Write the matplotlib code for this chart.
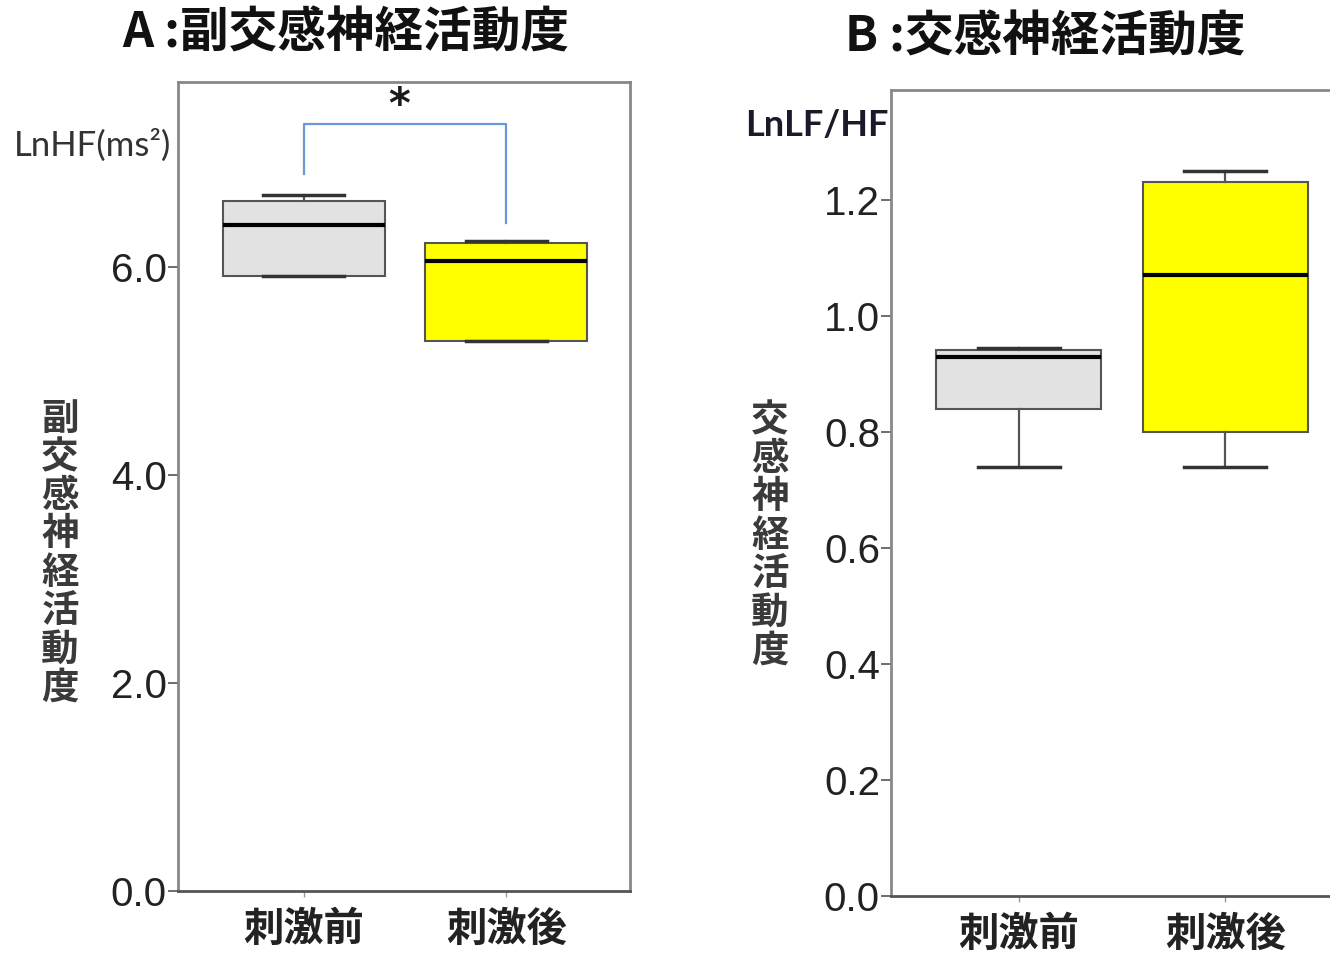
import matplotlib
matplotlib.use("Agg")
import matplotlib.pyplot as plt

plt.rcParams['font.family'] = ['Noto Sans CJK JP', 'DejaVu Sans']

# data
groups = ['刺激前', '刺激後']

# A: LnHF (ms2)
hf_q1 = [5.91, 5.29]
hf_med = [6.40, 6.06]
hf_q3 = [6.64, 6.23]
hf_lo = [5.91, 5.29]
hf_hi = [6.69, 6.25]

# B: LnLF/HF
lfhf_q1 = [0.840, 0.800]
lfhf_med = [0.929, 1.071]
lfhf_q3 = [0.941, 1.231]
lfhf_lo = [0.740, 0.740]
lfhf_hi = [0.945, 1.250]

hf_ticks = [0.0, 2.0, 4.0, 6.0]
lfhf_ticks = [0.0, 0.2, 0.4, 0.6, 0.8, 1.0, 1.2]
box_colors = ['#e2e2e2', '#ffff00']
num_font = ['Liberation Sans Narrow', 'Liberation Sans']

W, H = 1330, 957
fig = plt.figure(figsize=(W / 100, H / 100), dpi=100)


def px_axes(left, top, right, bottom):
    return fig.add_axes([left / W, 1 - bottom / H, (right - left) / W, (bottom - top) / H])


def draw_boxes(ax, q1, med, q3, lo, hi):
    stats = []
    for i in range(len(groups)):
        stats.append(dict(med=med[i], q1=q1[i], q3=q3[i], whislo=lo[i], whishi=hi[i], fliers=[]))
    bp = ax.bxp(stats, positions=[1, 2], widths=0.8, patch_artist=True,
                showfliers=False, capwidths=0.4,
                boxprops=dict(edgecolor='#555555', linewidth=1.5),
                medianprops=dict(color='black', linewidth=3),
                whiskerprops=dict(color='#555555', linewidth=1.6),
                capprops=dict(color='#333333', linewidth=2.5))
    for patch, c in zip(bp['boxes'], box_colors):
        patch.set_facecolor(c)
    ax.set_xlim(0.38, 2.61)
    ax.set_xticks([1, 2])
    ax.set_xticklabels(groups, fontsize=29, fontweight='bold', color='#222222')
    ax.tick_params(axis='x', length=4, width=1, color='#999999', pad=9)
    ax.tick_params(axis='y', length=7, width=1.2, color='#555555', pad=1,
                   labelsize=29, labelcolor='#222222')
    for s in ax.spines.values():
        s.set_color('#888888')
        s.set_linewidth(2)
    ax.spines['bottom'].set_color('#555555')


# panel A
axA = px_axes(178, 82, 630, 891)
draw_boxes(axA, hf_q1, hf_med, hf_q3, hf_lo, hf_hi)
axA.set_ylim(0, 7.78)
axA.set_yticks(hf_ticks)
axA.set_yticklabels(['%.1f' % t for t in hf_ticks], family=num_font)

# significance bracket
br_left, br_top, br_right = 6.90, 7.38, 6.42
axA.plot([1, 1, 2, 2], [br_left, br_top, br_top, br_right], color='#6a9ad6', lw=1.6)
axA.text(1.47, 7.55, '*', ha='center', va='center', fontsize=30, fontweight='bold',
         color='#1a1a1a', family='DejaVu Sans')

# panel B
axB = px_axes(891, 90, 1351, 896)
draw_boxes(axB, lfhf_q1, lfhf_med, lfhf_q3, lfhf_lo, lfhf_hi)
axB.set_ylim(0, 1.39)
axB.set_yticks(lfhf_ticks)
axB.set_yticklabels(['%.1f' % t for t in lfhf_ticks], family=num_font)

# titles
fig.text(346 / W, 1 - 33 / H, 'A :副交感神経活動度', ha='center', va='center',
         fontsize=35, fontweight='bold', color='#111111')
fig.text(1045 / W, 1 - 37 / H, 'B :交感神経活動度', ha='center', va='center',
         fontsize=35, fontweight='bold', color='#111111')

# unit labels
fig.text(93 / W, 1 - 145 / H, 'LnHF(ms²)', ha='center', va='center',
         fontsize=25, color='#333333', family=['Lato', 'DejaVu Sans'])
fig.text(889 / W, 1 - 125 / H, 'LnLF/HF', ha='right', va='center',
         fontsize=26, fontweight='bold', color='#1a1a2a', family=['Lato', 'DejaVu Sans'])

# stacked vertical labels
fig.text(60 / W, 1 - 553 / H, '\n'.join('副交感神経活動度'), ha='center', va='center',
         fontsize=27, fontweight='bold', color='#3a3a3a', linespacing=0.98)
fig.text(770 / W, 1 - 535 / H, '\n'.join('交感神経活動度'), ha='center', va='center',
         fontsize=27, fontweight='bold', color='#3a3a3a', linespacing=0.98)

fig.savefig('out.png', dpi=100)
